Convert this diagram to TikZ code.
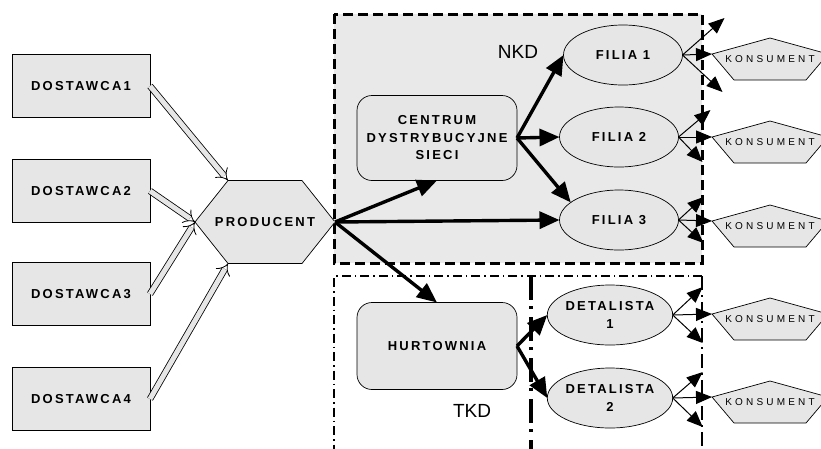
\documentclass[tikz,border=0pt]{standalone}
\usepackage{fontspec}
\setmainfont{Liberation Sans}
\newfontfamily\boldlbl{Liberation Sans}[LetterSpace=17]
\newfontfamily\konslbl{Liberation Sans}[LetterSpace=32]
\usetikzlibrary{shapes.geometric}
\usetikzlibrary{arrows.meta}
\usetikzlibrary{calc}
\usetikzlibrary{backgrounds}

\definecolor{boxgray}{HTML}{E6E6E6}
\definecolor{areagray}{HTML}{E9E9E9}

\tikzset{
  box/.style={draw, fill=boxgray, line width=0.7pt, inner sep=0pt, outer sep=0pt,
    align=center, font=\boldlbl\bfseries\fontsize{13}{17.5}\selectfont},
  supplier/.style={box, minimum width=138, minimum height=63},
  hub/.style={box, rounded corners=15pt, minimum width=160, minimum height=85},
  outlet/.style={box, ellipse, minimum width=119, minimum height=60},
  hexbox/.style={box, draw=none, fill=none, minimum width=140, minimum height=83},
  kons/.style={inner sep=0pt, outer sep=0pt, minimum width=116, minimum height=42,
    font=\konslbl\fontsize{10}{12}\selectfont},
  outline/.style={draw, fill=boxgray, line width=0.7pt},
  chanlbl/.style={font=\fontsize{19}{22}\selectfont},
  supply/.style={double=boxgray, double distance=5pt, line width=0.8pt, -{Implies}},
  flow/.style={line width=3.4pt, -{Triangle[length=20pt, width=17pt]}},
  sale/.style={line width=1pt, -{Triangle[length=16pt, width=13pt]}},
}

\begin{document}
\begin{tikzpicture}[x=1pt, y=-1pt]
    \useasboundingbox (0,0) rectangle (821,448);
    % NKD area
    \draw[fill=areagray, line width=3pt, dash pattern=on 10pt off 5pt] (334,14) rectangle (702,263);
    \node[chanlbl] (nkd) at (518,52) {NKD};
    % TKD area
    \draw[line width=1.5pt, dash pattern=on 9pt off 4pt on 1.5pt off 4pt] (702,276) -- (334,276) -- (334,460);
    \draw[line width=2.2pt, dash pattern=on 14pt off 5pt on 2pt off 5pt] (702,276) -- (702,460);
    \draw[line width=3.5pt, dash pattern=on 24pt off 6pt on 3pt off 8pt] (531,276) -- (531,460);
    \node[chanlbl] (tkd) at (472,411) {TKD};
    % suppliers
    \node[supplier] (d1) at (81,86) {DOSTAWCA1};
    \node[supplier] (d2) at (81,191) {DOSTAWCA2};
    \node[supplier] (d3) at (81,294) {DOSTAWCA3};
    \node[supplier] (d4) at (81,399) {DOSTAWCA4};
    % producer
    \node[hexbox] (prod) at (265,222) {PRODUCENT};
    \coordinate (prodnw) at ($(prod.north west)+(33,0)$);
    \coordinate (prodne) at ($(prod.north east)+(-33,0)$);
    \coordinate (prodsw) at ($(prod.south west)+(33,0)$);
    \coordinate (prodse) at ($(prod.south east)+(-33,0)$);
    \begin{scope}[on background layer]
        \draw[outline] (prod.west) -- (prodnw) -- (prodne) -- (prod.east) -- (prodse) -- (prodsw) -- cycle;
    \end{scope}
    \draw[supply] (d1.east) -- (prodnw);
    \draw[supply] (d2.east) -- (prod.west);
    \draw[supply] (d3.east) -- (prod.west);
    \draw[supply] (d4.east) -- (prodsw);
    % distribution centre and branches
    \node[hub] (cds) at (437,138) {CENTRUM\\DYSTRYBUCYJNE\\SIECI};
    \node[outlet] (f1) at (623,55) {FILIA 1};
    \node[outlet] (f2) at (619,137) {FILIA 2};
    \node[outlet] (f3) at (619,220) {FILIA 3};
    % wholesaler and retailers
    \node[hub, minimum height=87] (hurt) at (437,346) {HURTOWNIA};
    \node[outlet] (det1) at (610,315) {DETALISTA\\1};
    \node[outlet] (det2) at (610,398) {DETALISTA\\2};
    % consumers
    \node[kons] (k1) at (770,59) {KONSUMENT};
    \node[kons] (k2) at (770,142) {KONSUMENT};
    \node[kons] (k3) at (770,226) {KONSUMENT};
    \node[kons] (k4) at (770,319) {KONSUMENT};
    \node[kons] (k5) at (770,402) {KONSUMENT};
    \foreach \k in {k1,k2,k3,k4,k5} {
        \coordinate (\k-w) at ($(\k.west)+(0,-5)$);
        \begin{scope}[on background layer]
            \draw[outline] (\k.north) -- ($(\k.east)+(0,-5)$) -- ($(\k.south east)+(-22,0)$)
                -- ($(\k.south west)+(22,0)$) -- (\k-w) -- cycle;
        \end{scope}
    }
    % goods flow
    \draw[flow] (prod.east) -- (cds.south);
    \draw[flow] (prod.east) -- (f3.west);
    \draw[flow] (prod.east) -- (hurt.north);
    \draw[flow] (cds.east) -- (f1.west);
    \draw[flow] (cds.east) -- (f2.west);
    \draw[flow] (cds.east) -- (f3.160);
    \draw[flow] (hurt.east) -- (det1.west);
    \draw[flow] (hurt.east) -- (det2.west);
    % sales to consumers
    \foreach \src/\dst/\ux/\uy/\dx/\dy in {f1/k1/42/-37/40/37, f2/k2/32/-27/24/25,
        f3/k3/25/-23/25/23, det1/k4/30/-28/30/28, det2/k5/30/-26/30/29} {
        \draw[sale] (\src.east) -- ++(\ux,\uy) coordinate (\src-up);
        \draw[sale] (\src.east) -- (\dst-w);
        \draw[sale] (\src.east) -- ++(\dx,\dy) coordinate (\src-down);
    }
\end{tikzpicture}
\end{document}
